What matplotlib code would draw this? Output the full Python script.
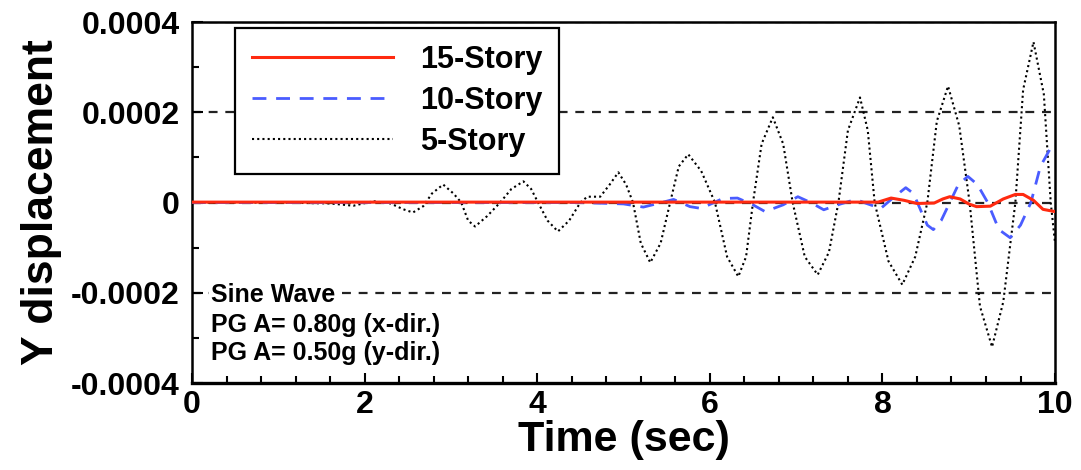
import matplotlib
matplotlib.use("Agg")
import matplotlib.pyplot as plt
from matplotlib.ticker import MultipleLocator

plt.rcParams['font.family'] = ['Liberation Sans', 'DejaVu Sans']

# 5-story response
t5 = [0.0, 1.0, 1.6, 1.87, 2.1, 2.3, 2.45, 2.56, 2.68, 2.78, 2.91, 3.03, 3.12, 3.2, 3.28,
      3.42, 3.57, 3.7, 3.84, 3.93, 4.01, 4.12, 4.24, 4.37, 4.5, 4.58, 4.73, 4.84, 4.94,
      5.03, 5.11, 5.2, 5.31, 5.43, 5.54, 5.64, 5.75, 5.9, 6.06, 6.2, 6.33, 6.42, 6.5,
      6.6, 6.73, 6.85, 6.96, 7.1, 7.25, 7.38, 7.49, 7.6, 7.74, 7.83, 7.91, 8.07, 8.23,
      8.38, 8.52, 8.63, 8.76, 8.89, 9.01, 9.13, 9.27, 9.4, 9.54, 9.63, 9.75, 9.87, 9.95, 10.0]
y5 = [0.0, 0.0, -0.000002, -0.000007, 0.000003, -0.000002, -0.000015, -0.000022, -0.000008,
      0.00002, 0.00004, 0.00002, 0.0, -0.00004, -0.000053,
      -0.00003, 0.0, 0.00003, 0.000047, 0.00003, 0.0, -0.00004, -0.000064, -0.00004, 0.0,
      0.000013, 0.000013, 0.00004, 0.000067,
      0.00004, 0.0, -0.00009, -0.000133, -0.00009, 0.0, 0.00008, 0.000107, 0.00007, 0.0,
      -0.00012, -0.000164, -0.00012, 0.0,
      0.00013, 0.000189, 0.00013, 0.0, -0.00012, -0.00016, -0.00011, 0.0, 0.00016, 0.000233,
      0.00016, 0.0, -0.00013, -0.000182,
      -0.00012, 0.0, 0.00018, 0.000258, 0.00017, 0.0, -0.00023, -0.00032, -0.00022, 0.0,
      0.00025, 0.000356, 0.00024, 0.0, -0.00009]

# 10-story response
t10 = [0.0, 4.5, 5.0, 5.23, 5.4, 5.58, 5.77, 5.9, 6.15, 6.32, 6.5, 6.64, 6.85, 7.02,
       7.17, 7.32, 7.5, 7.69, 7.83, 7.98, 8.12, 8.27, 8.36, 8.45, 8.52, 8.59, 8.68, 8.78,
       8.88, 8.99, 9.1, 9.22, 9.35, 9.48, 9.6, 9.72, 9.83, 9.94, 10.0]
y10 = [0.0, 0.0, -0.000003, -0.00001, -0.000002, 0.000007, -0.000009, -0.000013, 0.000009,
       0.00001, -0.000005, -0.00002, -0.000005, 0.000013,
       0.0, -0.000016, -0.000004, 0.000007, -0.000003, -0.000013, 0.00001, 0.000033, 0.00002,
       -0.00002, -0.00005, -0.00006, -0.00004, 0.0,
       0.00004, 0.000058, 0.00004, 0.0, -0.00006, -0.000078, -0.00005, 0.0, 0.00008, 0.000118, 0.00012]

# 15-story response
t15 = [0.0, 7.95, 8.1, 8.25, 8.4, 8.6, 8.7, 8.78, 8.9, 9.0, 9.09, 9.25, 9.4, 9.54,
       9.63, 9.75, 9.86, 10.0]
y15 = [0.000001, 0.000001, 0.00001, 0.000005, -0.000002, -0.000001, 0.000008, 0.000013,
       0.000008, -0.000003, -0.000009, -0.000008, 0.000008, 0.000018,
       0.000018, 0.000005, -0.000015, -0.00002]

labels = ['15-Story', '10-Story', '5-Story']
yticks = [-0.0004, -0.0002, 0.0, 0.0002, 0.0004]
ytick_labels = ['-0.0004', '-0.0002', '0', '0.0002', '0.0004']
xticks = [0, 2, 4, 6, 8, 10]
grid_levels = [0.0004, 0.0002, 0.0, -0.0002]
notes = ['Sine Wave', 'PG A= 0.80g (x-dir.)', 'PG A= 0.50g (y-dir.)']

fig = plt.figure(figsize=(10.81, 4.70), dpi=100)
ax = fig.add_axes([0.1776, 0.185, 0.7984, 0.768])

for g in grid_levels:
    ax.axhline(g, color='#222222', lw=1.6, ls=(0, (4, 3.5)), zorder=1)

ax.plot(t15, y15, color='#ff2a10', lw=2.2, label=labels[0], zorder=4)
ax.plot(t10, y10, color='#4a5cff', lw=2.0, ls=(0, (5, 3.5)), label=labels[1], zorder=3)
ax.plot(t5, y5, color='black', lw=1.5, ls=(0, (1, 1.5)), label=labels[2], zorder=2)

ax.set_xlim(0, 10)
ax.set_ylim(-0.0004, 0.0004)
ax.set_xticks(xticks)
ax.set_xticklabels([str(v) for v in xticks])
ax.set_yticks(yticks)
ax.set_yticklabels(ytick_labels)
ax.xaxis.set_minor_locator(MultipleLocator(0.4))
ax.yaxis.set_minor_locator(MultipleLocator(0.0001))
ax.tick_params(which='both', direction='in', width=1.5, labelsize=23)
ax.tick_params(axis='y', which='major', length=8, pad=9)
ax.tick_params(axis='x', which='major', length=7, pad=5)
ax.tick_params(which='minor', length=5)
for lab in ax.get_xticklabels() + ax.get_yticklabels():
    lab.set_fontweight('bold')
for s in ax.spines.values():
    s.set_linewidth(1.8)
ax.spines['bottom'].set_linewidth(2.4)

ax.set_xlabel('Time (sec)', fontsize=31, fontweight='bold', labelpad=0)
ax.set_ylabel('Y displacement', fontsize=32, fontweight='bold', labelpad=6)

leg = ax.legend(loc='upper left', bbox_to_anchor=(0.05, 0.983), borderaxespad=0,
                fancybox=False, framealpha=1, edgecolor='black',
                prop={'size': 22, 'weight': 'bold'}, handlelength=4.6,
                handletextpad=0.9, labelspacing=0.36, borderpad=0.55)
leg.get_frame().set_linewidth(1.6)
leg.set_zorder(5)

ypos = [0.245, 0.162, 0.082]
for txt, yy in zip(notes, ypos):
    ax.text(0.022, yy, txt, transform=ax.transAxes, fontsize=18, fontweight='bold',
            va='center', ha='left', zorder=6,
            bbox=dict(facecolor='white', edgecolor='none', pad=1))

fig.savefig('out.png', dpi=100)
